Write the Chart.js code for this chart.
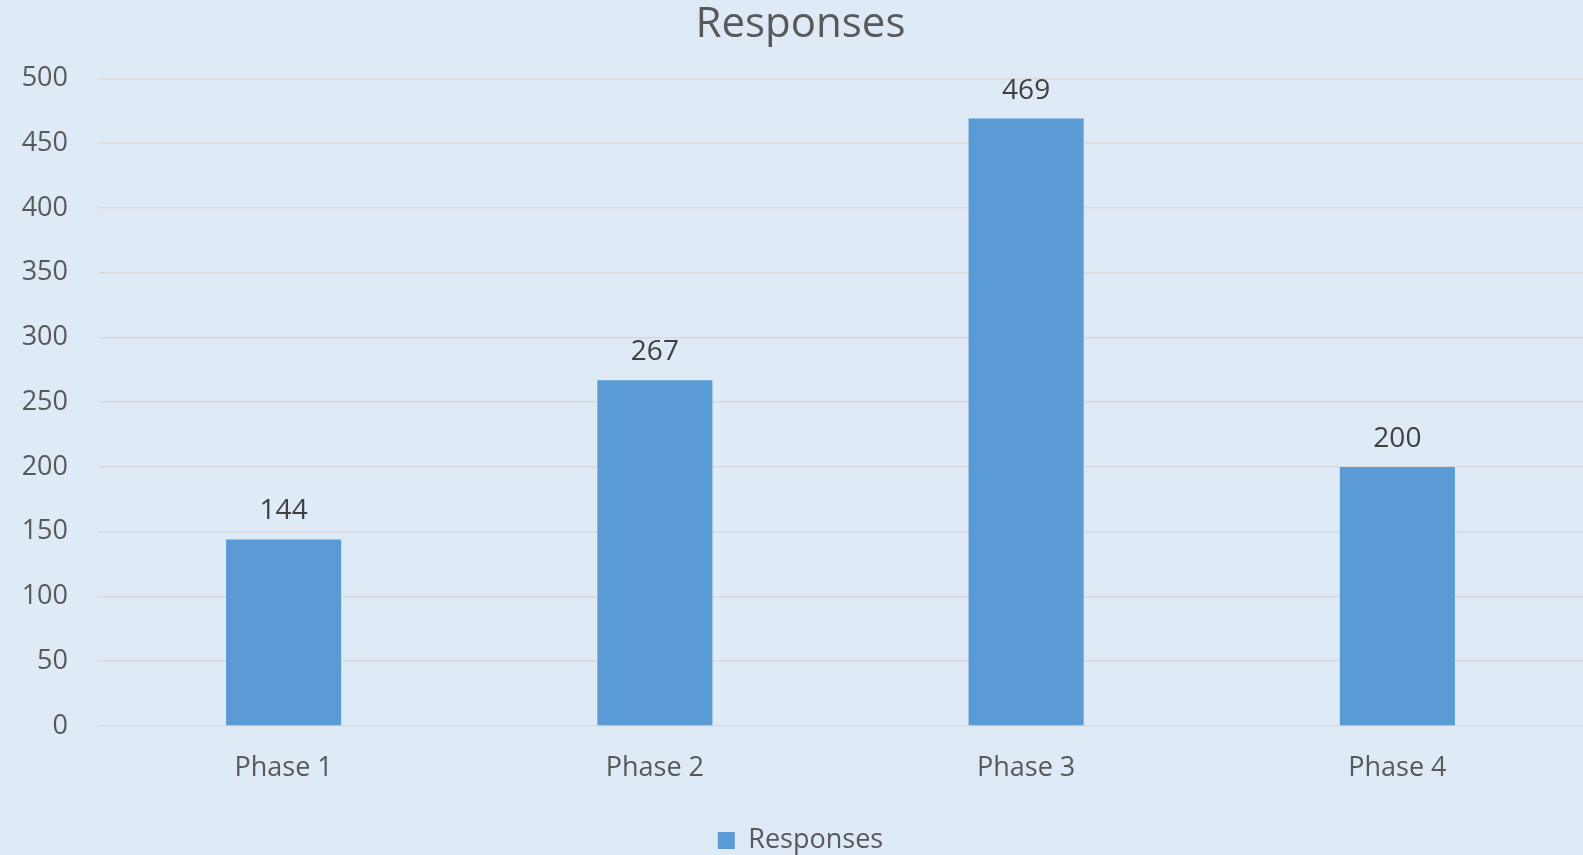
<!DOCTYPE html>
<html>
<head>
<meta charset="utf-8">
<script src="https://cdn.jsdelivr.net/npm/chart.js@4"></script>
<style>
  html, body { margin: 0; padding: 0; background: #DEEAF6; }
  #wrap { width: 1583px; height: 855px; }
</style>
</head>
<body>
<div id="wrap"><canvas id="chartResponses"></canvas></div>
<script>
var categories = ['Phase 1', 'Phase 2', 'Phase 3', 'Phase 4'];
var responses = [144, 267, 469, 200];
var yTicks = [0, 50, 100, 150, 200, 250, 300, 350, 400, 450, 500];

var FONT = "'Open Sans', 'Noto Sans', sans-serif";

// draws the value above each bar, positioned from the bar elements
var valueLabels = {
    id: 'valueLabels',
    afterDatasetsDraw: function(chart) {
        var ctx = chart.ctx;
        var meta = chart.getDatasetMeta(0);
        ctx.save();
        ctx.font = '28px ' + FONT;
        ctx.fillStyle = '#404040';
        ctx.textAlign = 'center';
        ctx.textBaseline = 'alphabetic';
        meta.data.forEach(function(bar, i) {
            ctx.fillText(chart.data.datasets[0].data[i], bar.x, bar.y - 20);
        });
        ctx.restore();
    }
};

var bg = {
    id: 'bg',
    beforeDraw: function(chart) {
        var ctx = chart.ctx;
        ctx.save();
        ctx.fillStyle = '#DEEAF6';
        ctx.fillRect(0, 0, chart.width, chart.height);
        ctx.restore();
    }
};

document.addEventListener('DOMContentLoaded', function() {
    var ctx = document.getElementById('chartResponses').getContext('2d');
    new Chart(ctx, {
        type: 'bar',
        data: {
            labels: categories,
            datasets: [{
                label: 'Responses',
                data: responses,
                backgroundColor: '#5B9BD5',
                borderWidth: 0,
                barPercentage: 0.31,
                categoryPercentage: 1.0
            }]
        },
        options: {
            responsive: true,
            maintainAspectRatio: false,
            animation: false,
            layout: { padding: { left: 18, right: 0, top: 0, bottom: -9 } },
            plugins: {
                title: {
                    display: true,
                    text: 'Responses',
                    color: '#595959',
                    font: { family: FONT, size: 42, weight: 'normal' },
                    padding: { top: 0, bottom: 28 }
                },
                legend: {
                    position: 'bottom',
                    labels: {
                        color: '#595959',
                        font: { family: FONT, size: 27 },
                        boxWidth: 17,
                        boxHeight: 17,
                        padding: 0
                    }
                },
                tooltip: { enabled: false }
            },
            scales: {
                x: {
                    grid: { display: false },
                    border: { display: false },
                    ticks: {
                        color: '#595959',
                        font: { family: FONT, size: 27 },
                        padding: 18
                    },
                    afterFit: function(axis) { axis.height = 101; }
                },
                y: {
                    min: yTicks[0],
                    max: yTicks[yTicks.length - 1],
                    afterBuildTicks: function(axis) {
                        axis.ticks = yTicks.map(function(v) { return { value: v }; });
                    },
                    grid: { color: '#D9D9D9', lineWidth: 1.5, drawTicks: false },
                    border: { display: false },
                    ticks: {
                        color: '#595959',
                        font: { family: FONT, size: 27 },
                        padding: 30
                    },
                    afterFit: function(axis) { axis.width = 80; }
                }
            }
        },
        plugins: [bg, valueLabels]
    });
});
</script>
</body>
</html>
